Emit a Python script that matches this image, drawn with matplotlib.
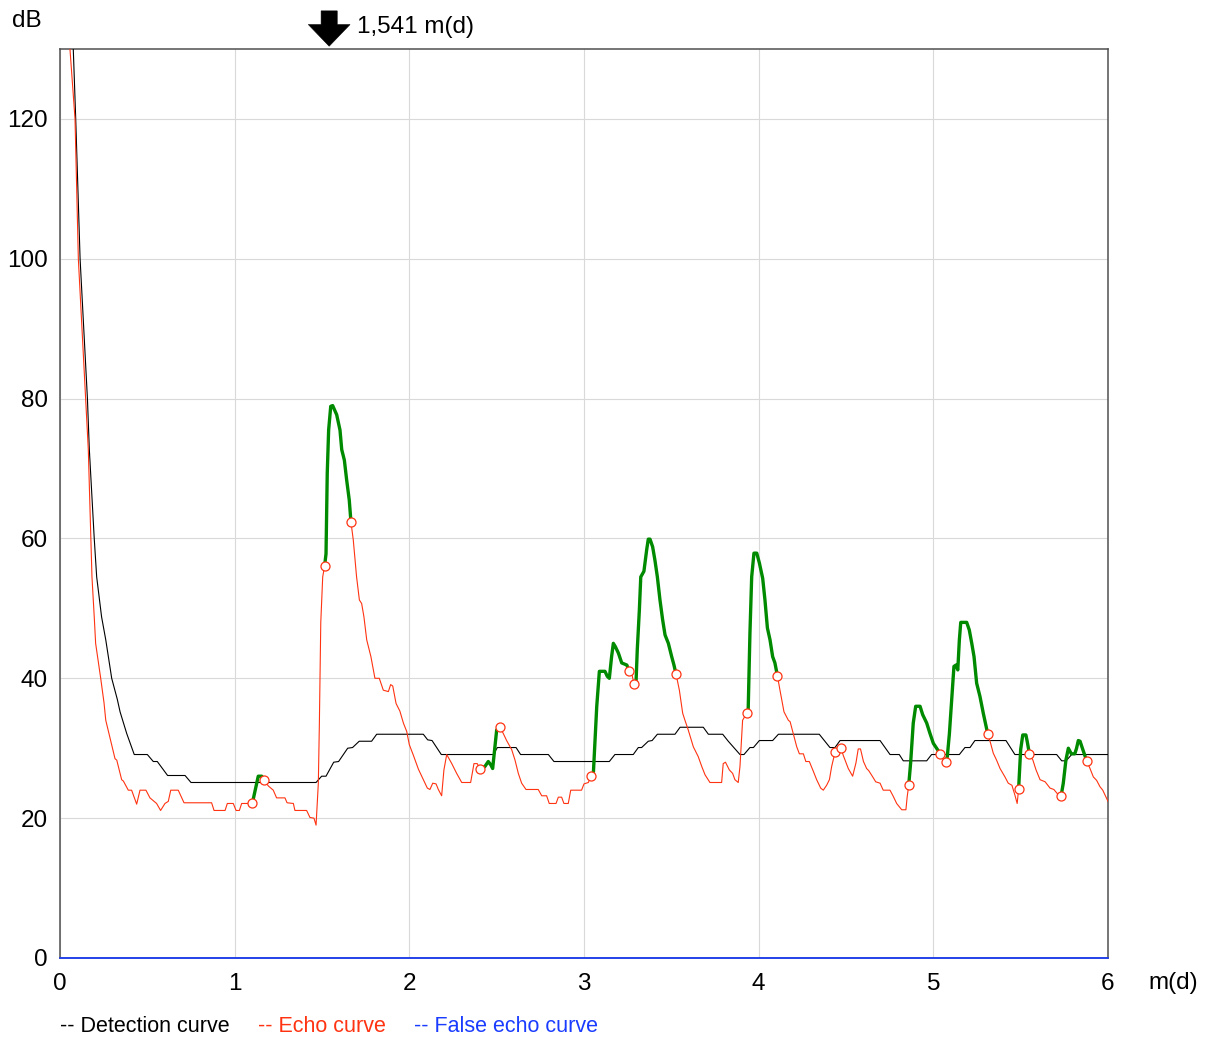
import matplotlib
matplotlib.use('Agg')
import matplotlib.pyplot as plt
import numpy as np

plt.rcParams['font.family'] = ['Liberation Sans', 'DejaVu Sans']

# echo curve (distance in m, level in dB)
echo_x = [0.050, 0.057, 0.086, 0.105, 0.126, 0.147, 0.162, 0.177, 0.183, 0.196,
          0.204, 0.233, 0.252, 0.262, 0.286, 0.315, 0.325, 0.353, 0.363, 0.391, 0.410,
          0.439, 0.458, 0.492, 0.515, 0.553, 0.576, 0.601, 0.620, 0.634, 0.677,
          0.710, 0.868, 0.882, 0.945, 0.958, 0.992, 1.008, 1.027, 1.040, 1.101,
          1.135, 1.155, 1.168, 1.193, 1.221, 1.240, 1.288, 1.300, 1.336, 1.345,
          1.412, 1.431, 1.454, 1.466, 1.479, 1.485, 1.493, 1.504, 1.515, 1.523,
          1.530, 1.538, 1.550, 1.561, 1.584, 1.603, 1.613, 1.628, 1.641, 1.656,
          1.666, 1.679, 1.698, 1.714, 1.727, 1.740, 1.756, 1.780, 1.803, 1.828,
          1.851, 1.880, 1.893, 1.905, 1.924, 1.946, 1.966, 1.985, 2.000, 2.023,
          2.052, 2.080, 2.103, 2.118, 2.134, 2.153, 2.166, 2.185, 2.198, 2.214,
          2.243, 2.271, 2.300, 2.351, 2.370, 2.389, 2.405, 2.433, 2.452, 2.467,
          2.477, 2.490, 2.500, 2.519, 2.538, 2.557, 2.586, 2.605, 2.624, 2.643,
          2.668, 2.738, 2.758, 2.786, 2.801, 2.840, 2.853, 2.872, 2.885, 2.910,
          2.924, 2.986, 3.000, 3.025, 3.040, 3.054, 3.073, 3.088, 3.120, 3.133,
          3.145, 3.158, 3.168, 3.180, 3.197, 3.216, 3.245, 3.260, 3.275, 3.286,
          3.298, 3.305, 3.317, 3.325, 3.343, 3.359, 3.368, 3.378, 3.393, 3.406,
          3.420, 3.435, 3.450, 3.464, 3.483, 3.502, 3.515, 3.527, 3.546, 3.565,
          3.578, 3.597, 3.626, 3.654, 3.674, 3.693, 3.721, 3.788, 3.797, 3.810,
          3.832, 3.851, 3.864, 3.883, 3.893, 3.908, 3.931, 3.940, 3.950, 3.960,
          3.973, 3.989, 4.004, 4.023, 4.036, 4.050, 4.065, 4.080, 4.093, 4.107,
          4.122, 4.145, 4.170, 4.180, 4.198, 4.218, 4.233, 4.256, 4.270, 4.290,
          4.313, 4.332, 4.355, 4.370, 4.389, 4.405, 4.418, 4.437, 4.470, 4.484,
          4.513, 4.538, 4.557, 4.570, 4.583, 4.600, 4.618, 4.630, 4.653, 4.670,
          4.695, 4.713, 4.752, 4.771, 4.790, 4.819, 4.843, 4.850, 4.859, 4.870,
          4.885, 4.899, 4.924, 4.939, 4.962, 4.981, 5.000, 5.040, 5.055, 5.072,
          5.080, 5.092, 5.105, 5.118, 5.130, 5.140, 5.149, 5.157, 5.191, 5.206,
          5.220, 5.233, 5.248, 5.267, 5.286, 5.311, 5.328, 5.343, 5.362, 5.382,
          5.410, 5.429, 5.450, 5.467, 5.480, 5.488, 5.500, 5.512, 5.530, 5.538,
          5.550, 5.570, 5.588, 5.611, 5.640, 5.668, 5.690, 5.710, 5.731, 5.744,
          5.759, 5.773, 5.790, 5.810, 5.820, 5.830, 5.840, 5.856, 5.878, 5.897,
          5.916, 5.935, 5.954, 5.970, 6.000]
echo_db = [135, 130, 120, 100, 90, 80, 72.7, 60, 54.5, 48.8,
           45, 40, 36.5, 34, 31.5, 28.5, 28.3, 25.5, 25.3, 24, 24,
           22, 24, 24, 22.9, 22.1, 21.1, 22.1, 22.4, 24, 24,
           22.2, 22.2, 21.1, 21.1, 22.1, 22.1, 21.1, 21.1, 22.1, 22.1,
           26, 26, 25.4, 24.6, 24, 22.9, 22.9, 22.2, 22.1, 21.1,
           21.1, 20.1, 20, 19.0, 25, 33.6, 48, 54.5, 56.1, 57.8,
           69.3, 75.5, 78.9, 79, 77.7, 75.5, 72.7, 71.2, 68.4, 65.5,
           62.3, 59.8, 54.5, 51.2, 50.7, 48.8, 45.5, 43.1, 40, 40,
           38.3, 38.1, 39.1, 38.9, 36.4, 35.3, 33.6, 32.4, 30.5, 29,
           27, 25.5, 24.3, 24.1, 25, 24.9, 24.1, 23.2, 26.9, 29.1,
           27.8, 26.4, 25.1, 25.1, 27.8, 27.8, 27.0, 27.4, 28.1, 27.6,
           27.1, 30.2, 32.6, 33.0, 32.1, 31.1, 29.8, 28.3, 26.4, 25,
           24.1, 24.1, 23.2, 23.2, 22.1, 22.1, 23, 23, 22.1, 22.1,
           24.0, 24.0, 24.9, 25.1, 26.0, 26.6, 36, 41.0, 41, 40.3,
           40.0, 43.1, 45.0, 44.5, 43.6, 42.2, 41.9, 41.0, 40.5, 39.2,
           39.5, 44.1, 49.8, 54.5, 55.3, 58.4, 59.9, 59.9, 58.8, 56.9,
           54.5, 51.2, 48.4, 46.2, 45.0, 43.1, 41.9, 40.6, 38.3, 35,
           34.0, 32.6, 30.2, 28.8, 27.4, 26.2, 25.1, 25.1, 27.8, 28,
           26.9, 26.4, 25.5, 25.1, 27.4, 34, 35.0, 35.5, 46.4, 54.5,
           57.9, 57.9, 56.5, 54.3, 51.2, 47.2, 45.5, 43.1, 42.2, 40.4,
           38.3, 35.2, 34.0, 33.8, 32.1, 30.2, 29.2, 29.2, 28.1, 28.1,
           26.7, 25.5, 24.3, 24, 24.7, 25.5, 27.4, 29.4, 30.1, 29.0,
           27.1, 26.0, 27.9, 29.9, 29.9, 28.1, 27.1, 26.8, 25.9, 25.2,
           25, 24, 24, 23.1, 22.1, 21.2, 21.2, 23, 24.7, 27.9,
           33.6, 36.0, 36, 34.8, 33.6, 32.1, 30.7, 29.2, 28.5, 28.1,
           28.8, 32.1, 36.9, 41.7, 41.9, 41.2, 45.5, 48.0, 48.0, 46.9,
           45, 43.1, 39.3, 37.4, 35.0, 32.1, 30.7, 29.3, 28.3, 27.1,
           25.9, 25, 24.7, 23.3, 22.1, 24.1, 29.8, 31.9, 31.9, 30.9,
           29.2, 28.3, 26.9, 25.5, 25.2, 24.3, 24.1, 23.5, 23.1, 25,
           28.3, 30.0, 29.2, 29.2, 30, 31.1, 31, 29.8, 28.2, 27.1,
           25.9, 25.4, 24.5, 24, 22.4]

# detection curve
det_x = [0.070, 0.076, 0.090, 0.115, 0.157, 0.168, 0.196, 0.210, 0.238, 0.262,
         0.296, 0.328, 0.344, 0.382, 0.425, 0.500, 0.534, 0.557, 0.616, 0.716,
         0.750, 1.466, 1.498, 1.523, 1.567, 1.595, 1.647, 1.675, 1.713, 1.784,
         1.813, 2.080, 2.105, 2.130, 2.183, 2.481, 2.504, 2.611, 2.637, 2.796,
         2.828, 3.145, 3.177, 3.282, 3.311, 3.330, 3.368, 3.390, 3.420, 3.521,
         3.550, 3.683, 3.712, 3.794, 3.826, 3.893, 3.916, 3.950, 3.970, 4.004,
         4.080, 4.113, 4.347, 4.408, 4.437, 4.466, 4.695, 4.752, 4.805, 4.828,
         4.962, 4.990, 5.149, 5.181, 5.210, 5.238, 5.416, 5.467, 5.706, 5.735,
         5.760, 5.792, 6.000]
det_db = [135, 130, 120, 100, 80, 72.7, 60, 54.5, 48.8, 45.5,
          40, 37, 35.2, 32.1, 29.1, 29.1, 28.1, 28.1, 26.1, 26.1,
          25.1, 25.1, 26.0, 26, 28, 28.1, 30, 30.1, 31, 31,
          32, 32, 31.2, 31.1, 29.1, 29.1, 30.1, 30.1, 29.1, 29.1,
          28.1, 28.1, 29.1, 29.1, 30.1, 30.1, 31, 31.1, 32, 32,
          33, 33, 32, 32, 31, 29.1, 29.1, 30.1, 30.1, 31.1,
          31.1, 32, 32, 30.1, 30.1, 31.1, 31.1, 29.1, 29.1, 28.2,
          28.2, 29.1, 29.1, 30.1, 30.1, 31.1, 31.1, 29.1, 29.1, 28.2,
          28.2, 29.1, 29.1]

# false echo curve (flat at zero)
false_x = [0.0, 6.0]
false_db = [0.0, 0.0]

# parts of the echo curve above detection (drawn green)
echo_segments = [(1.101, 1.168), (1.515, 1.666), (2.405, 2.519), (3.040, 3.260),
                 (3.286, 3.527), (3.931, 4.107), (4.859, 5.040), (5.072, 5.311),
                 (5.488, 5.550), (5.731, 5.878)]
extra_marks = [4.437, 4.470]

level_x = 1.541
level_text = '1,541 m(d)'

x_ticks = [0, 1, 2, 3, 4, 5, 6]
y_ticks = [0, 20, 40, 60, 80, 100, 120]

RED = '#ff3311'
W, H = 1213, 1040

fig = plt.figure(figsize=(W / 100, H / 100), dpi=100)
ax = fig.add_axes([60 / W, 1 - 958 / H, 1048 / W, 909 / H])

ex = np.array(echo_x)
ey = np.array(echo_db)

ax.plot(det_x, det_db, color='black', linewidth=0.8, zorder=3)
ax.plot(ex, ey, color=RED, linewidth=0.8, zorder=4)
for a, b in echo_segments:
    m = (ex >= a - 1e-9) & (ex <= b + 1e-9)
    ax.plot(ex[m], ey[m], color='#008a00', linewidth=2.4, zorder=5,
            solid_capstyle='round', solid_joinstyle='round')
ax.plot(false_x, false_db, color='#1a3cff', linewidth=1.2, zorder=6, clip_on=False)

marks = [v for seg in echo_segments for v in seg] + extra_marks
ax.plot(marks, np.interp(marks, ex, ey), linestyle='none', marker='o',
        markersize=6.5, markerfacecolor='white', markeredgecolor=RED,
        markeredgewidth=0.9, zorder=7)

ax.set_xlim(0, 6)
ax.set_ylim(0, 130)
ax.set_xticks(x_ticks)
ax.set_yticks(y_ticks)
ax.set_xticklabels([str(t) for t in x_ticks])
ax.set_yticklabels([str(t) for t in y_ticks])
ax.tick_params(length=0, labelsize=17.5, colors='black')
ax.tick_params(axis='x', pad=11)
ax.tick_params(axis='y', pad=9)
ax.grid(True, color='#d9d9d9', linewidth=0.8, zorder=0)
ax.set_axisbelow(True)
for s in ax.spines.values():
    s.set_color('#505050')
    s.set_linewidth(1.1)

# level arrow above the plot
ax.annotate('', xy=(level_x, 1.0), xycoords=('data', 'axes fraction'),
            xytext=(level_x, 1.045), textcoords=('data', 'axes fraction'),
            arrowprops=dict(arrowstyle='simple,head_length=0.78,head_width=1.5,tail_width=0.58',
                            mutation_scale=20, fc='black', ec='black', lw=0.4),
            annotation_clip=False)
ax.annotate(level_text, xy=(level_x, 1.0), xycoords=('data', 'axes fraction'),
            xytext=(28, 22), textcoords='offset pixels', ha='left', va='center',
            fontsize=17.5, annotation_clip=False)

fig.text(12 / W, 1 - 21 / H, 'dB', fontsize=17.5, ha='left', va='center')
fig.text(1148 / W, 1 - 983 / H, 'm(d)', fontsize=17.5, ha='left', va='center')

fig.text(60 / W, 1 - 1026 / H, '-- Detection curve', fontsize=15.5, color='black',
         ha='left', va='center')
fig.text(258 / W, 1 - 1026 / H, '-- Echo curve', fontsize=15.5, color=RED,
         ha='left', va='center')
fig.text(414 / W, 1 - 1026 / H, '-- False echo curve', fontsize=15.5, color='#1a3cff',
         ha='left', va='center')

fig.savefig('out.png', dpi=100)
